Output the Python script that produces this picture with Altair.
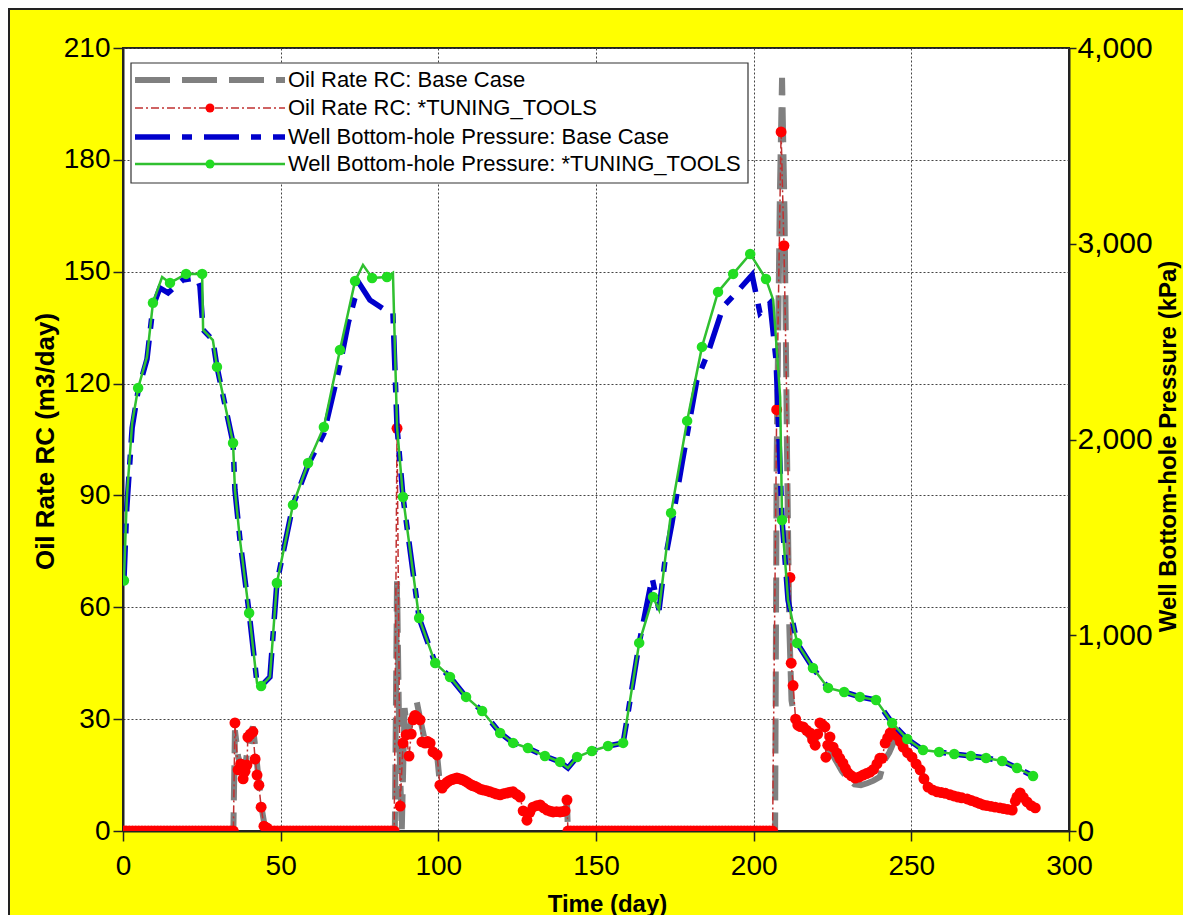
import altair as alt
import pandas as pd

FONT = "Liberation Sans"

series_names = [
    "Oil Rate RC: Base Case",
    "Oil Rate RC: *TUNING_TOOLS",
    "Well Bottom-hole Pressure: Base Case",
    "Well Bottom-hole Pressure: *TUNING_TOOLS",
]
x_ticks = [0, 50, 100, 150, 200, 250, 300]
left_ticks = [0, 30, 60, 90, 120, 150, 180, 210]
right_ticks = [0, 1000, 2000, 3000, 4000]

# ---- Oil Rate RC: Base Case (day, m3/day)
oil_base = [(0, 0), (35, 0), (35.5, 27), (36.5, 20), (37.5, 17), (38.5, 16), (39.5, 22), (40.5, 26),
            (41.2, 28), (42, 22), (43, 14), (44, 6), (45, 1), (46, 0), (86.2, 0), (86.9, 67), (87.6, 25),
            (88.4, 0), (89.3, 33), (90.3, 25), (91.2, 29), (92, 32), (93.2, 34.5), (94.5, 29), (95.8, 24),
            (97.4, 24), (98.3, 21.5), (99.6, 20.5), (100.5, 12.5), (102.8, 13), (105.9, 14), (109.1, 13),
            (114.2, 11), (119.6, 9.7), (123.7, 10.3), (125.9, 9), (126.9, 5.5), (128.1, 3.5), (130, 6),
            (132.3, 6.5), (134.5, 5.3), (136.4, 5), (138.6, 5), (140.2, 5.3), (140.8, 7.5), (141.1, 0),
            (206.8, 0), (207.3, 100), (208.3, 170), (209, 202), (209.8, 165), (210.6, 100), (211.3, 55),
            (212, 35), (213, 30), (214, 28), (216, 27), (218, 25), (220, 25), (222, 25), (224, 22),
            (226, 19), (228, 16), (230, 14), (232, 12.5), (234, 12.3), (236, 12.8), (238, 13.5),
            (240, 14.5), (241.5, 19), (243, 21), (244.5, 24), (246, 25), (247.4, 22.5), (250.2, 19.8),
            (252.8, 16.4), (255.3, 11.8), (258.2, 10.5), (262.3, 9.7), (267.7, 8.6), (272.8, 7),
            (278.1, 6.2), (282, 5.6), (283.5, 9), (284.5, 10), (286.7, 7.8), (289.3, 6.2)]

# ---- Oil Rate RC: *TUNING_TOOLS (every time step carries a marker)
tune_zero_days_a = [0, 1, 2, 3, 4, 5, 6, 7, 8, 9, 10, 11, 12, 13, 14, 15, 16, 17, 18, 19, 20, 21, 22, 23,
                    24, 25, 26, 27, 28, 29, 30, 31, 32, 33, 34, 35]
tune_burst_1 = [(35.5, 29), (36.5, 16.4), (37.3, 18), (38.1, 14), (38.7, 16), (39.3, 17.7), (39.6, 25.2),
                (40.4, 26), (41.2, 26.6), (41.9, 19.3), (42.5, 15), (43.1, 12.3), (43.8, 6.4), (44.7, 1.3),
                (45.7, 0.8)]
tune_zero_days_b = [46, 47, 48, 49, 50, 51, 52, 53, 54, 55, 56, 57, 58, 59, 60, 61, 62, 63, 64, 65, 66,
                    67, 68, 69, 70, 71, 72, 73, 74, 75, 76, 77, 78, 79, 80, 81, 82, 83, 84, 85, 86]
tune_burst_2 = [(86.9, 108), (87.9, 6.7), (88.8, 23.6), (89.8, 25.8), (90.7, 20.1), (91.4, 26), (92, 29.8),
                (92.6, 31), (93.2, 30.6), (94.2, 29.8), (94.8, 23.9), (95.8, 23.6), (96.6, 24), (97.4, 23.6),
                (98.3, 21.2), (99.6, 20.4), (100.5, 12.3), (101.2, 11.5), (102, 12.5), (102.8, 13.1),
                (103.5, 13.5), (104.3, 13.8), (105.1, 14), (105.9, 14.2), (106.7, 14), (107.5, 13.8),
                (108.3, 13.5), (109.1, 13.1), (110, 12.6), (110.8, 12.2), (111.6, 12), (112.5, 11.6),
                (113.3, 11.2), (114.2, 11), (115.3, 10.8), (116.4, 10.5), (117.5, 10.2), (118.5, 9.9),
                (119.6, 9.7), (120.7, 10), (121.8, 10.2), (122.8, 10.4), (123.7, 10.5), (124.8, 9.8),
                (125.9, 9.1), (126.9, 5.4), (128.1, 2.9), (129, 5), (130, 6.4), (131.2, 6.8), (132.3, 7),
                (133.4, 6.2), (134.5, 5.6), (135.5, 5.3), (136.4, 5.1), (137.5, 5.2), (138.6, 5.1),
                (139.4, 5.2), (140.2, 5.4), (140.8, 8.3), (141.1, 0)]
tune_zero_days_c = [142, 143, 144, 145, 146, 147, 148, 149, 150, 151, 152, 153, 154, 155, 156, 157, 158,
                    159, 160, 161, 162, 163, 164, 165, 166, 167, 168, 169, 170, 171, 172, 173, 174, 175,
                    176, 177, 178, 179, 180, 181, 182, 183, 184, 185, 186, 187, 188, 189, 190, 191, 192,
                    193, 194, 195, 196, 197, 198, 199, 200, 201, 202, 203, 204, 205, 206]
tune_burst_3 = [(207.3, 113), (208.7, 187.5), (209.6, 157), (211.5, 68), (211.9, 45), (212.5, 39),
                (213.3, 30), (214, 28.4), (214.8, 28), (215.7, 27.9), (216.8, 27), (217.9, 26.3),
                (218.7, 24.5), (219.5, 23), (220.3, 26), (221, 29), (221.8, 28.5), (222.6, 27.9),
                (222.9, 19.8), (223.5, 23), (224.2, 25.2), (225.2, 22.5), (226.4, 20.9), (227.3, 19.5),
                (228.3, 18.2), (229.1, 16.8), (229.9, 15.6), (231, 14.8), (232.2, 14.2), (233.5, 14.5),
                (234.7, 15), (235.8, 15.4), (236.9, 15.8), (238, 16.5), (239.1, 18), (240, 19.5),
                (240.7, 19.5), (241.7, 23.6), (242.5, 25), (243.3, 26.3), (244.2, 27), (245.5, 25.5),
                (246.5, 24), (247.4, 22.5), (248.8, 21), (250.2, 19.8), (251.5, 18), (252.8, 16.4),
                (254, 14), (255.3, 11.8), (256.7, 11), (258.2, 10.5), (259.5, 10.3), (260.8, 10.1),
                (262.3, 9.7), (263.5, 9.4), (264.8, 9.1), (266, 8.9), (267.7, 8.6), (269, 8.2),
                (270.4, 7.8), (271.6, 7.4), (272.8, 7), (274, 6.8), (275.3, 6.6), (276.6, 6.4),
                (278.1, 6.2), (279.3, 6), (280.6, 5.8), (282, 5.6), (283, 8), (283.5, 9.1), (284.5, 10.2),
                (285.5, 9), (286.7, 7.8), (288, 6.8), (289.3, 6.2)]

# ---- Well Bottom-hole Pressure: Base Case (day, kPa)
bhp_base = [(0.3, 1280), (1.2, 1650), (2.9, 2060), (4.8, 2250), (7.6, 2410), (9.5, 2680), (11.7, 2774),
            (14.3, 2749), (19, 2815), (23.5, 2825), (24.4, 2784), (25.4, 2560), (28.5, 2508), (29.8, 2371),
            (34.9, 1982), (35.5, 1742), (37.1, 1487), (40, 1114), (42.5, 756), (43.8, 741), (46.6, 787),
            (48.8, 1267), (53.9, 1666), (58.7, 1870), (63.7, 2030), (68.8, 2380), (71.5, 2600),
            (73.5, 2720), (75.2, 2790), (78.3, 2713), (83.1, 2662), (85.6, 2646), (86.9, 2064),
            (88.8, 1706), (93.9, 1088), (99, 858), (103.7, 787), (108.8, 685), (113.9, 613), (119.6, 501),
            (123.7, 450), (128.4, 424), (133.8, 383), (138.6, 353), (141.1, 322), (144, 378), (148.7, 409),
            (153.8, 434), (158.6, 450), (159.8, 567), (163.7, 961), (167.8, 1293), (170, 1129),
            (171.9, 1385), (174.1, 1574), (177.3, 1880), (182, 2304), (185.5, 2442), (190.3, 2677),
            (194.7, 2754), (199.5, 2841), (202, 2646), (205.2, 2697), (207.1, 2406), (209, 1589),
            (210.9, 1180), (213.8, 960), (218.8, 833), (223.6, 731), (228.7, 710), (233.7, 685),
            (238.8, 669), (243.9, 552), (248.7, 470), (253.7, 414), (258.8, 404), (263.6, 393),
            (268.9, 383), (273.7, 373), (278.8, 358), (283.5, 322), (288.6, 281)]

# ---- Well Bottom-hole Pressure: *TUNING_TOOLS (day, kPa, has marker)
bhp_tune = [(0.3, 1280, 1), (1.2, 1700, 0), (2.9, 2084, 0), (4.8, 2263, 1), (7.6, 2422, 0), (9.5, 2698, 1),
            (12.4, 2830, 0), (14.9, 2800, 1), (20, 2846, 1), (25.1, 2846, 1), (25.4, 2560, 0),
            (28.5, 2508, 0), (29.8, 2371, 1), (34.9, 1982, 1), (35.5, 1742, 0), (37.1, 1487, 0),
            (40, 1114, 1), (42.5, 756, 0), (43.8, 741, 1), (46.6, 787, 0), (48.8, 1267, 1), (53.9, 1666, 1),
            (58.7, 1880, 1), (63.7, 2064, 1), (68.8, 2457, 1), (73.6, 2810, 1), (76.1, 2892, 0),
            (79, 2825, 1), (83.7, 2830, 1), (85.6, 2851, 0), (86.9, 2064, 0), (88.8, 1706, 1),
            (93.9, 1088, 1), (99, 858, 1), (103.7, 787, 1), (108.8, 685, 1), (113.9, 613, 1),
            (119.6, 501, 1), (123.7, 450, 1), (128.4, 424, 1), (133.8, 383, 1), (138.6, 353, 1),
            (141.1, 322, 0), (144, 378, 1), (148.7, 409, 1), (153.8, 434, 1), (158.6, 450, 1),
            (159.8, 567, 0), (163.7, 961, 1), (168.1, 1196, 1), (170, 1129, 0), (171.9, 1385, 0),
            (173.8, 1625, 1), (178.9, 2095, 1), (183.6, 2473, 1), (188.7, 2754, 1), (193.5, 2846, 1),
            (198.9, 2948, 1), (203.9, 2820, 1), (206.2, 2713, 0), (208.4, 2217, 0), (209, 1589, 1),
            (210.9, 1180, 0), (213.8, 960, 1), (218.8, 833, 1), (223.6, 731, 1), (228.7, 710, 1),
            (233.7, 685, 1), (238.8, 669, 1), (243.9, 552, 1), (248.7, 470, 1), (253.7, 414, 1),
            (258.8, 404, 1), (263.6, 393, 1), (268.9, 383, 1), (273.7, 373, 1), (278.8, 358, 1),
            (283.5, 322, 1), (288.6, 281, 1)]

# ---------------- build tables
oil_base_df = pd.DataFrame(oil_base, columns=["day", "val"])
tune_pairs = ([(d, 0) for d in tune_zero_days_a] + tune_burst_1 + [(d, 0) for d in tune_zero_days_b]
              + tune_burst_2 + [(d, 0) for d in tune_zero_days_c] + tune_burst_3)
oil_tune_df = pd.DataFrame(tune_pairs, columns=["day", "val"])
bhp_base_df = pd.DataFrame(bhp_base, columns=["day", "val"])
bhp_tune_df = pd.DataFrame(bhp_tune, columns=["day", "val", "mark"])
bhp_mark_df = bhp_tune_df[bhp_tune_df["mark"] == 1]

W, H = 946, 783

x_enc = alt.X("day:Q", scale=alt.Scale(domain=[0, 300], nice=False, zero=False),
              axis=alt.Axis(values=x_ticks, title="Time (day)", grid=True, tickSize=10, labelPadding=11,
                            labelFlush=False, labelOverlap=False, titleX=484, titleY=80,
                            titleBaseline="alphabetic", titleFontSize=24))
y_left = alt.Y("val:Q", scale=alt.Scale(domain=[0, 210], nice=False, zero=False),
               axis=alt.Axis(values=left_ticks, orient="left", title="Oil Rate RC (m3/day)", grid=True,
                             tickSize=10, labelPadding=3, labelFlush=False, labelOverlap=False,
                             labelFontSize=28, titleAngle=270, titleX=-78, titleY=393,
                             titleBaseline="middle", titleFontSize=26))
y_right = alt.Y("val:Q", scale=alt.Scale(domain=[0, 4000], nice=False, zero=False),
                axis=alt.Axis(values=right_ticks, orient="right", format=",.0f",
                              title="Well Bottom-hole Pressure (kPa)", grid=False, tickSize=7,
                              labelPadding=1, labelFlush=False, labelOverlap=False, labelFontSize=30,
                              titleAngle=270, titleX=99, titleY=398, titleBaseline="middle",
                              titleFontSize=24))

grey = alt.Chart(oil_base_df).mark_line(color="#808080", strokeWidth=6, strokeDash=[35, 12],
                                         strokeCap="butt", clip=True).encode(x=x_enc, y=y_left)
red_line = alt.Chart(oil_tune_df).mark_line(color="#c03030", strokeWidth=1.5, strokeDash=[8, 3, 2, 3],
                                             clip=True).encode(x=x_enc, y=y_left)
red_pts = alt.Chart(oil_tune_df).mark_circle(color="#ff0000", size=120, opacity=1,
                                              clip=True).encode(x=x_enc, y=y_left)
left_group = alt.layer(grey, red_line, red_pts)

blue = alt.Chart(bhp_base_df).mark_line(color="#0000cc", strokeWidth=5.5, strokeDash=[35, 12, 10, 12],
                                         strokeCap="butt", clip=True).encode(x=x_enc, y=y_right)
green_line = alt.Chart(bhp_tune_df).mark_line(color="#30c030", strokeWidth=2.5,
                                               clip=True).encode(x=x_enc, y=y_right)
green_pts = alt.Chart(bhp_mark_df).mark_circle(color="#22dd22", size=110, opacity=1,
                                                clip=True).encode(x=x_enc, y=y_right)
right_group = alt.layer(blue, green_line, green_pts)

# ---------------- legend (drawn in pixel space inside the plot)
one = alt.Data(values=[{"k": 1}])
legend_rows = [32, 60, 89, 116]
styles = [
    dict(color="#808080", strokeWidth=6, strokeDash=[35, 12]),
    dict(color="#c03030", strokeWidth=1.5, strokeDash=[8, 3, 2, 3]),
    dict(color="#0000cc", strokeWidth=5.5, strokeDash=[35, 12, 10, 12]),
    dict(color="#30c030", strokeWidth=2.5, strokeDash=[1, 0]),
]
marker_colors = [None, "#ff0000", None, "#22dd22"]

legend_layers = [
    alt.Chart(one).mark_rect(fill="white", stroke="#333333", strokeWidth=1.2).encode(
        x=alt.value(8), x2=alt.value(625), y=alt.value(15), y2=alt.value(135))
]
for yy, st, mc, name in zip(legend_rows, styles, marker_colors, series_names):
    legend_layers.append(alt.Chart(one).mark_rule(strokeCap="butt", **st).encode(
        x=alt.value(12), x2=alt.value(162), y=alt.value(yy)))
    if mc:
        legend_layers.append(alt.Chart(one).mark_circle(color=mc, size=80, opacity=1).encode(
            x=alt.value(87), y=alt.value(yy)))
    legend_layers.append(alt.Chart(one).mark_text(align="left", baseline="middle", font=FONT,
                                                  fontSize=22, color="black").encode(
        x=alt.value(165), y=alt.value(yy), text=alt.value(name)))

# outer frame (left and top edges of the figure)
frame = [
    alt.Chart(one).mark_rule(color="#222222", strokeWidth=2).encode(
        x=alt.value(-114), x2=alt.value(-114), y=alt.value(-40), y2=alt.value(H + 84)),
    alt.Chart(one).mark_rule(color="#222222", strokeWidth=2).encode(
        x=alt.value(-115), x2=alt.value(W + 114), y=alt.value(-39)),
]

chart = alt.layer(left_group, right_group, *legend_layers, *frame).resolve_scale(
    y="independent"
).properties(
    width=W, height=H,
    autosize=alt.AutoSizeParams(type="none"),
    padding={"left": 115, "top": 40, "right": 114, "bottom": 84},
    background="#ffff00",
).configure_view(
    fill="white", stroke="#222222", strokeWidth=2
).configure_axis(
    labelFont=FONT, titleFont=FONT, labelFontSize=28, labelColor="black", titleColor="black",
    titleFontWeight="bold", domainColor="#222222", domainWidth=2, tickColor="#222222", tickWidth=1.5,
    gridColor="#444444", gridDash=[2, 2], gridWidth=1, gridOpacity=1
)

chart.save("out.html", embed_options={"renderer": "svg", "actions": False})
